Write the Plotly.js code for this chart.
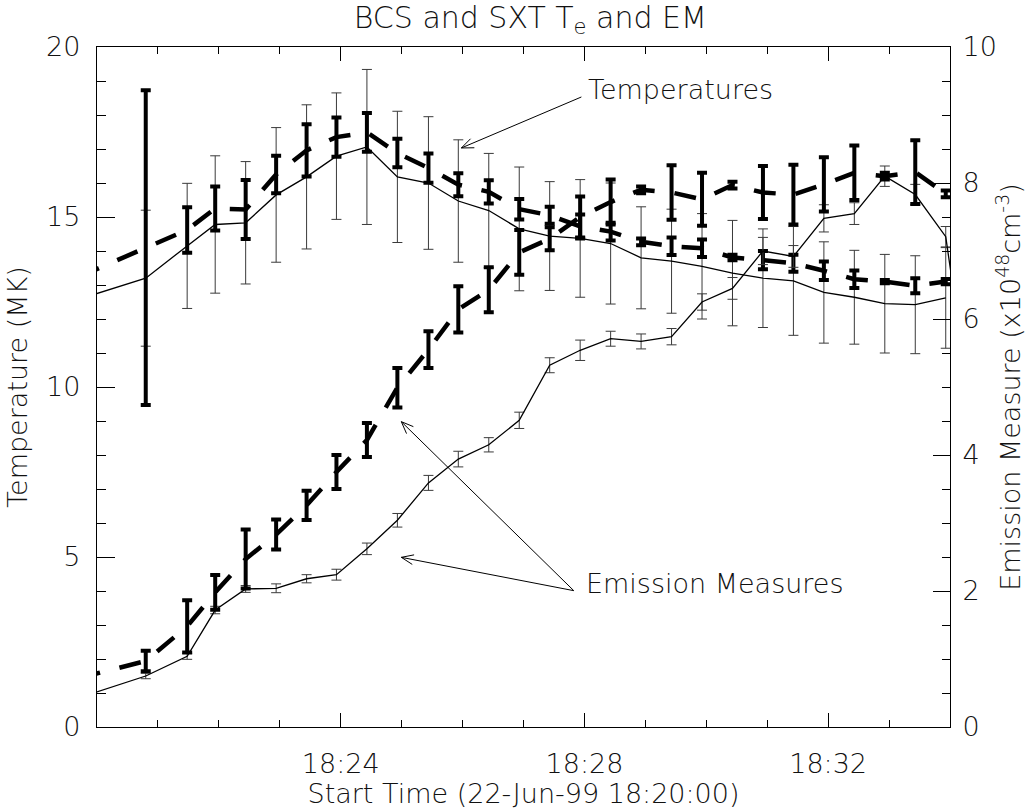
<!DOCTYPE html>
<html>
<head>
<meta charset="utf-8">
<script src="https://cdn.plot.ly/plotly-3.0.1.min.js"></script>
<style>
  html, body { margin: 0; padding: 0; background: #ffffff; }
  #chart { width: 1026px; height: 809px; }
</style>
</head>
<body>
<div id="chart"></div>
<script>
// Time in minutes after 18:20:00 (22-Jun-99)
const times = [-0.3, 0.80, 1.48, 1.94, 2.44, 2.94, 3.44, 3.93, 4.43, 4.93, 5.44, 5.93, 6.43, 6.93, 7.43, 7.93, 8.43, 8.93, 9.43, 9.93, 10.43, 10.93, 11.43, 11.93, 12.43, 12.93, 13.43, 13.93, 14.43];

// SXT temperature (MK), thin solid line
const sxtTemp    = [12.58, 13.2, 14.15, 14.78, 14.83, 15.65, 16.18, 16.79, 17.06, 16.18, 16.0, 15.47, 15.19, 14.65, 14.44, 14.37, 14.22, 13.8, 13.7, 13.55, 13.35, 13.2, 13.12, 12.78, 12.64, 12.45, 12.42, 12.62, null];
const sxtTempErr = [0, 2.0, 1.84, 2.02, 1.8, 1.98, 2.12, 1.86, 2.28, 1.93, 1.95, 1.8, 1.68, 1.82, 1.6, 1.73, 1.78, 1.5, 1.53, 1.55, 1.55, 1.45, 1.6, 1.49, 1.38, 1.45, 1.44, 1.48, 0];

// BCS temperature (MK), thick dashed line
const bcsTemp    = [13.24, 14.1, 14.62, 15.25, 15.22, 16.25, 16.96, 17.35, 17.49, 16.88, 16.44, 15.95, 15.74, 15.23, 15.05, 14.72, 14.57, 14.27, 14.14, 14.08, 13.81, 13.73, 13.64, 13.42, 13.17, 13.1, 12.98, 13.1, null];
const bcsTempErr = [0, 4.63, 0.67, 0.65, 0.87, 0.55, 0.77, 0.58, 0.57, 0.42, 0.43, 0.34, 0.34, 0.3, 0.25, 0.35, 0.26, 0.1, 0.26, 0.26, 0.08, 0.27, 0.25, 0.27, 0.26, 0.05, 0.22, 0.08, 0];

// SXT emission measure (1e48 cm^-3), thin solid line
const sxtEM    = [0.43, 0.75, 1.04, 1.72, 2.03, 2.04, 2.18, 2.24, 2.62, 3.04, 3.59, 3.94, 4.15, 4.51, 5.32, 5.54, 5.71, 5.67, 5.74, 6.25, 6.45, 7.0, 6.92, 7.48, 7.55, 8.1, 7.83, 7.21, 4.1];
const sxtEMErr = [0, 0.04, 0.045, 0.055, 0.05, 0.065, 0.06, 0.08, 0.085, 0.1, 0.11, 0.115, 0.105, 0.12, 0.11, 0.15, 0.11, 0.11, 0.12, 0.12, 0.16, 0.2, 0.16, 0.2, 0.16, 0.15, 0.15, 0.15, 0];

// BCS emission measure (1e48 cm^-3), thick dashed line
const bcsEM    = [0.72, 0.97, 1.48, 1.98, 2.47, 2.83, 3.26, 3.75, 4.22, 4.99, 5.55, 6.14, 6.43, 6.98, 7.18, 7.5, 7.72, 7.9, 7.86, 7.76, 7.97, 7.86, 7.83, 7.98, 8.15, 8.1, 8.16, 7.84, null];
const bcsEMErr = [0, 0.15, 0.385, 0.255, 0.435, 0.22, 0.215, 0.25, 0.25, 0.29, 0.27, 0.34, 0.33, 0.33, 0.17, 0.3, 0.33, 0.05, 0.4, 0.39, 0.05, 0.39, 0.44, 0.4, 0.4, 0.05, 0.47, 0.05, 0];

// Axis ticks
const xTickVals = [4, 8, 12];
const xTickText = ['18:24', '18:28', '18:32'];

// Annotation labels and arrows (tail -> head, in minutes / MK)
const labels = [
  {text: 'Temperatures', x: 8.03, y: 18.74},
  {text: 'Emission Measures', x: 8.0, y: 4.23}
];
const arrows = [
  {tail: [7.95, 18.53], head: [5.98, 17.03]},
  {tail: [7.825, 4.01], head: [4.995, 8.98]},
  {tail: [7.825, 4.01], head: [4.995, 4.99]}
];

const FONT = 'DejaVu Sans ExtraLight, DejaVu Sans, Verdana, sans-serif';
const TXT = '#111111';
const FS = 27;

const X_RANGE = [0, 14], Y_RANGE = [0, 20];
const M = {l: 97, r: 76, t: 47, b: 82};
const W = 1026, H = 809;
const pxPerX = (W - M.l - M.r) / (X_RANGE[1] - X_RANGE[0]);
const pxPerY = (H - M.t - M.b) / (Y_RANGE[1] - Y_RANGE[0]);

const shapes = [];
arrows.forEach(a => {
  shapes.push({type: 'line', xref: 'x', yref: 'y', x0: a.tail[0], y0: a.tail[1], x1: a.head[0], y1: a.head[1],
               line: {color: '#000', width: 1}});
  // arrowhead wings (open V), 12 px long at +-22 degrees
  const dxp = (a.tail[0] - a.head[0]) * pxPerX;
  const dyp = (a.tail[1] - a.head[1]) * pxPerY;
  const len = Math.hypot(dxp, dyp);
  const ux = dxp / len, uy = dyp / len;
  const L = 13, ang = 22 * Math.PI / 180;
  [ang, -ang].forEach(t => {
    const wx = ux * Math.cos(t) - uy * Math.sin(t);
    const wy = ux * Math.sin(t) + uy * Math.cos(t);
    shapes.push({type: 'line', xref: 'x', yref: 'y',
                 x0: a.head[0], y0: a.head[1],
                 x1: a.head[0] + wx * L / pxPerX, y1: a.head[1] + wy * L / pxPerY,
                 line: {color: '#000', width: 1}});
  });
});

const thinErr = (arr) => ({type: 'data', array: arr, visible: true, color: '#3a3a3a', thickness: 1, width: 5});
const thickErr = (arr) => ({type: 'data', array: arr, visible: true, color: '#000000', thickness: 4, width: 5});

const traces = [
  {x: times, y: sxtTemp, error_y: thinErr(sxtTempErr), type: 'scatter', mode: 'lines',
   line: {color: '#000', width: 1.3}, yaxis: 'y', name: 'SXT Te', connectgaps: false},
  {x: times, y: sxtEM, error_y: thinErr(sxtEMErr), type: 'scatter', mode: 'lines',
   line: {color: '#000', width: 1.3}, yaxis: 'y2', name: 'SXT EM', connectgaps: false},
  {x: times, y: bcsTemp, error_y: thickErr(bcsTempErr), type: 'scatter', mode: 'lines',
   line: {color: '#000', width: 4.5, dash: '22px,20px'}, yaxis: 'y', name: 'BCS Te', connectgaps: false},
  {x: times, y: bcsEM, error_y: thickErr(bcsEMErr), type: 'scatter', mode: 'lines',
   line: {color: '#000', width: 4.5, dash: '22px,20px'}, yaxis: 'y2', name: 'BCS EM', connectgaps: false}
];

const fnt = (s) => ({family: FONT, size: s, color: TXT, weight: 200});

const axisCommon = {
  showgrid: false, zeroline: false, showline: true, linecolor: '#000', linewidth: 1.2,
  ticks: 'inside', tickcolor: '#000', tickwidth: 1,
  tickfont: fnt(FS),
  automargin: false
};

const layout = {
  width: W, height: H,
  margin: {l: M.l, r: M.r, t: M.t, b: M.b, pad: 0},
  paper_bgcolor: '#ffffff', plot_bgcolor: '#ffffff',
  showlegend: false,
  font: fnt(FS),
  title: {
    text: 'BCS and SXT T<sub>e</sub> and EM',
    font: fnt(30),
    x: 0.508, xanchor: 'center', xref: 'paper',
    y: 0.979, yanchor: 'middle', yref: 'container'
  },
  xaxis: Object.assign({}, axisCommon, {
    range: X_RANGE, mirror: 'ticks', ticklen: 14,
    tickmode: 'array', tickvals: xTickVals, ticktext: xTickText,
    ticklabelstandoff: 12,
    minor: {tickmode: 'linear', tick0: 0, dtick: 1, ticks: 'inside', ticklen: 7, tickcolor: '#000', tickwidth: 1, showgrid: false},
    title: {text: 'Start Time (22-Jun-99 18:20:00)', font: fnt(FS), standoff: 4}
  }),
  yaxis: Object.assign({}, axisCommon, {
    range: Y_RANGE, tickmode: 'linear', tick0: 0, dtick: 5, ticklen: 18,
    ticklabelstandoff: 10,
    minor: {tickmode: 'linear', tick0: 0, dtick: 1, ticks: 'inside', ticklen: 9, tickcolor: '#000', tickwidth: 1, showgrid: false},
    title: {text: 'Temperature (MK)', font: fnt(FS), standoff: 10}
  }),
  yaxis2: Object.assign({}, axisCommon, {
    overlaying: 'y', side: 'right', anchor: 'x',
    range: [0, 10], tickmode: 'linear', tick0: 0, dtick: 2, ticklen: 17,
    ticklabelstandoff: 6,
    minor: {tickmode: 'linear', tick0: 0, dtick: 0.5, ticks: 'inside', ticklen: 8, tickcolor: '#000', tickwidth: 1, showgrid: false},
    title: {text: 'Emission Measure (x10<sup>48</sup>cm<sup>-3</sup>)', font: fnt(FS), standoff: 16}
  }),
  shapes: shapes,
  annotations: labels.map(l => ({
    x: l.x, y: l.y, xref: 'x', yref: 'y', text: l.text, showarrow: false,
    xanchor: 'left', yanchor: 'middle', font: fnt(FS)
  }))
};

Plotly.newPlot('chart', traces, layout, {staticPlot: true, displayModeBar: false});
</script>
</body>
</html>
